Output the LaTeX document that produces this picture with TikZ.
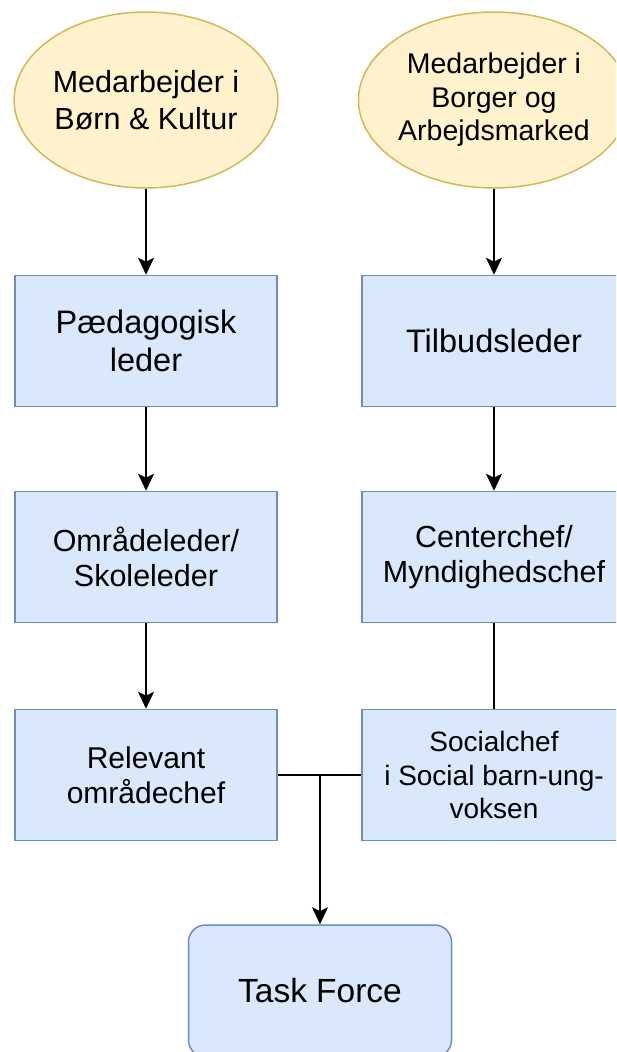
\documentclass[tikz,border=0pt]{standalone}
\usepackage{fontspec}
\setmainfont{Liberation Sans}
\usetikzlibrary{shapes.geometric, arrows.meta}
\definecolor{boxfill}{HTML}{DAE8FC}
\definecolor{boxline}{HTML}{6C8EBF}
\definecolor{ovalfill}{HTML}{FFF2CC}
\definecolor{ovalline}{HTML}{D6B656}
\tikzstyle{oval} = [ellipse, minimum width=263pt, minimum height=176pt, inner sep=0, draw=ovalline, fill=ovalfill, line width=1.5pt, align=center]
\tikzstyle{role} = [rectangle, minimum width=262pt, minimum height=131pt, inner sep=0, draw=boxline, fill=boxfill, line width=1.5pt, align=center]
\tikzstyle{team} = [role, rounded corners=17pt, minimum width=263pt, minimum height=132pt]
\tikzstyle{arrow} = [line width=1.5pt,-{Stealth[length=17pt,width=16pt,inset=4pt]}]
\tikzstyle{link} = [line width=1.5pt]

\begin{document}
\begin{tikzpicture}[x=1pt,y=-1pt]
\useasboundingbox (0,0) rectangle (616,1052);
\clip (0,0) rectangle (616,1052);

% left column
\node[oval, font=\fontsize{30.5}{37}\selectfont] (staffbk) at (146,100) {Medarbejder i\\Børn \& Kultur};
\node[role, font=\fontsize{32.5}{38}\selectfont] (pedleader) at (146,341) {Pædagogisk\\leder};
\node[role, font=\fontsize{30.5}{35}\selectfont] (arealeader) at (146,557) {Områdeleder/\\Skoleleder};
\node[role, font=\fontsize{30}{35}\selectfont] (areachief) at (146,775) {Relevant\\områdechef};

% right column
\node[oval, font=\fontsize{28.5}{33.5}\selectfont] (staffba) at (494,100) {Medarbejder i\\Borger og\\Arbejdsmarked};
\node[role, minimum width=264pt, font=\fontsize{32.5}{38}\selectfont] (offerleader) at (494,341) {Tilbudsleder};
\node[role, minimum width=264pt, font=\fontsize{30.5}{35}\selectfont] (centerchief) at (494,557) {Centerchef/\\Myndighedschef};
\node[role, minimum width=264pt, font=\fontsize{28}{33.5}\selectfont] (socialchief) at (494,775) {Socialchef\\i Social barn-ung-\\voksen};

\node[team, font=\fontsize{33.5}{38}\selectfont] (taskforce) at (320,991) {Task Force};

\draw[arrow] (staffbk) -- (pedleader);
\draw[arrow] (pedleader) -- (arealeader);
\draw[arrow] (arealeader) -- (areachief);
\draw[arrow] (staffba) -- (offerleader);
\draw[arrow] (offerleader) -- (centerchief);
\draw[link] (centerchief) -- (socialchief);

\coordinate (merge) at (320,775);
\draw[link] (areachief) -- (socialchief);
\draw[arrow] (merge) -- (taskforce);
\end{tikzpicture}
\end{document}
